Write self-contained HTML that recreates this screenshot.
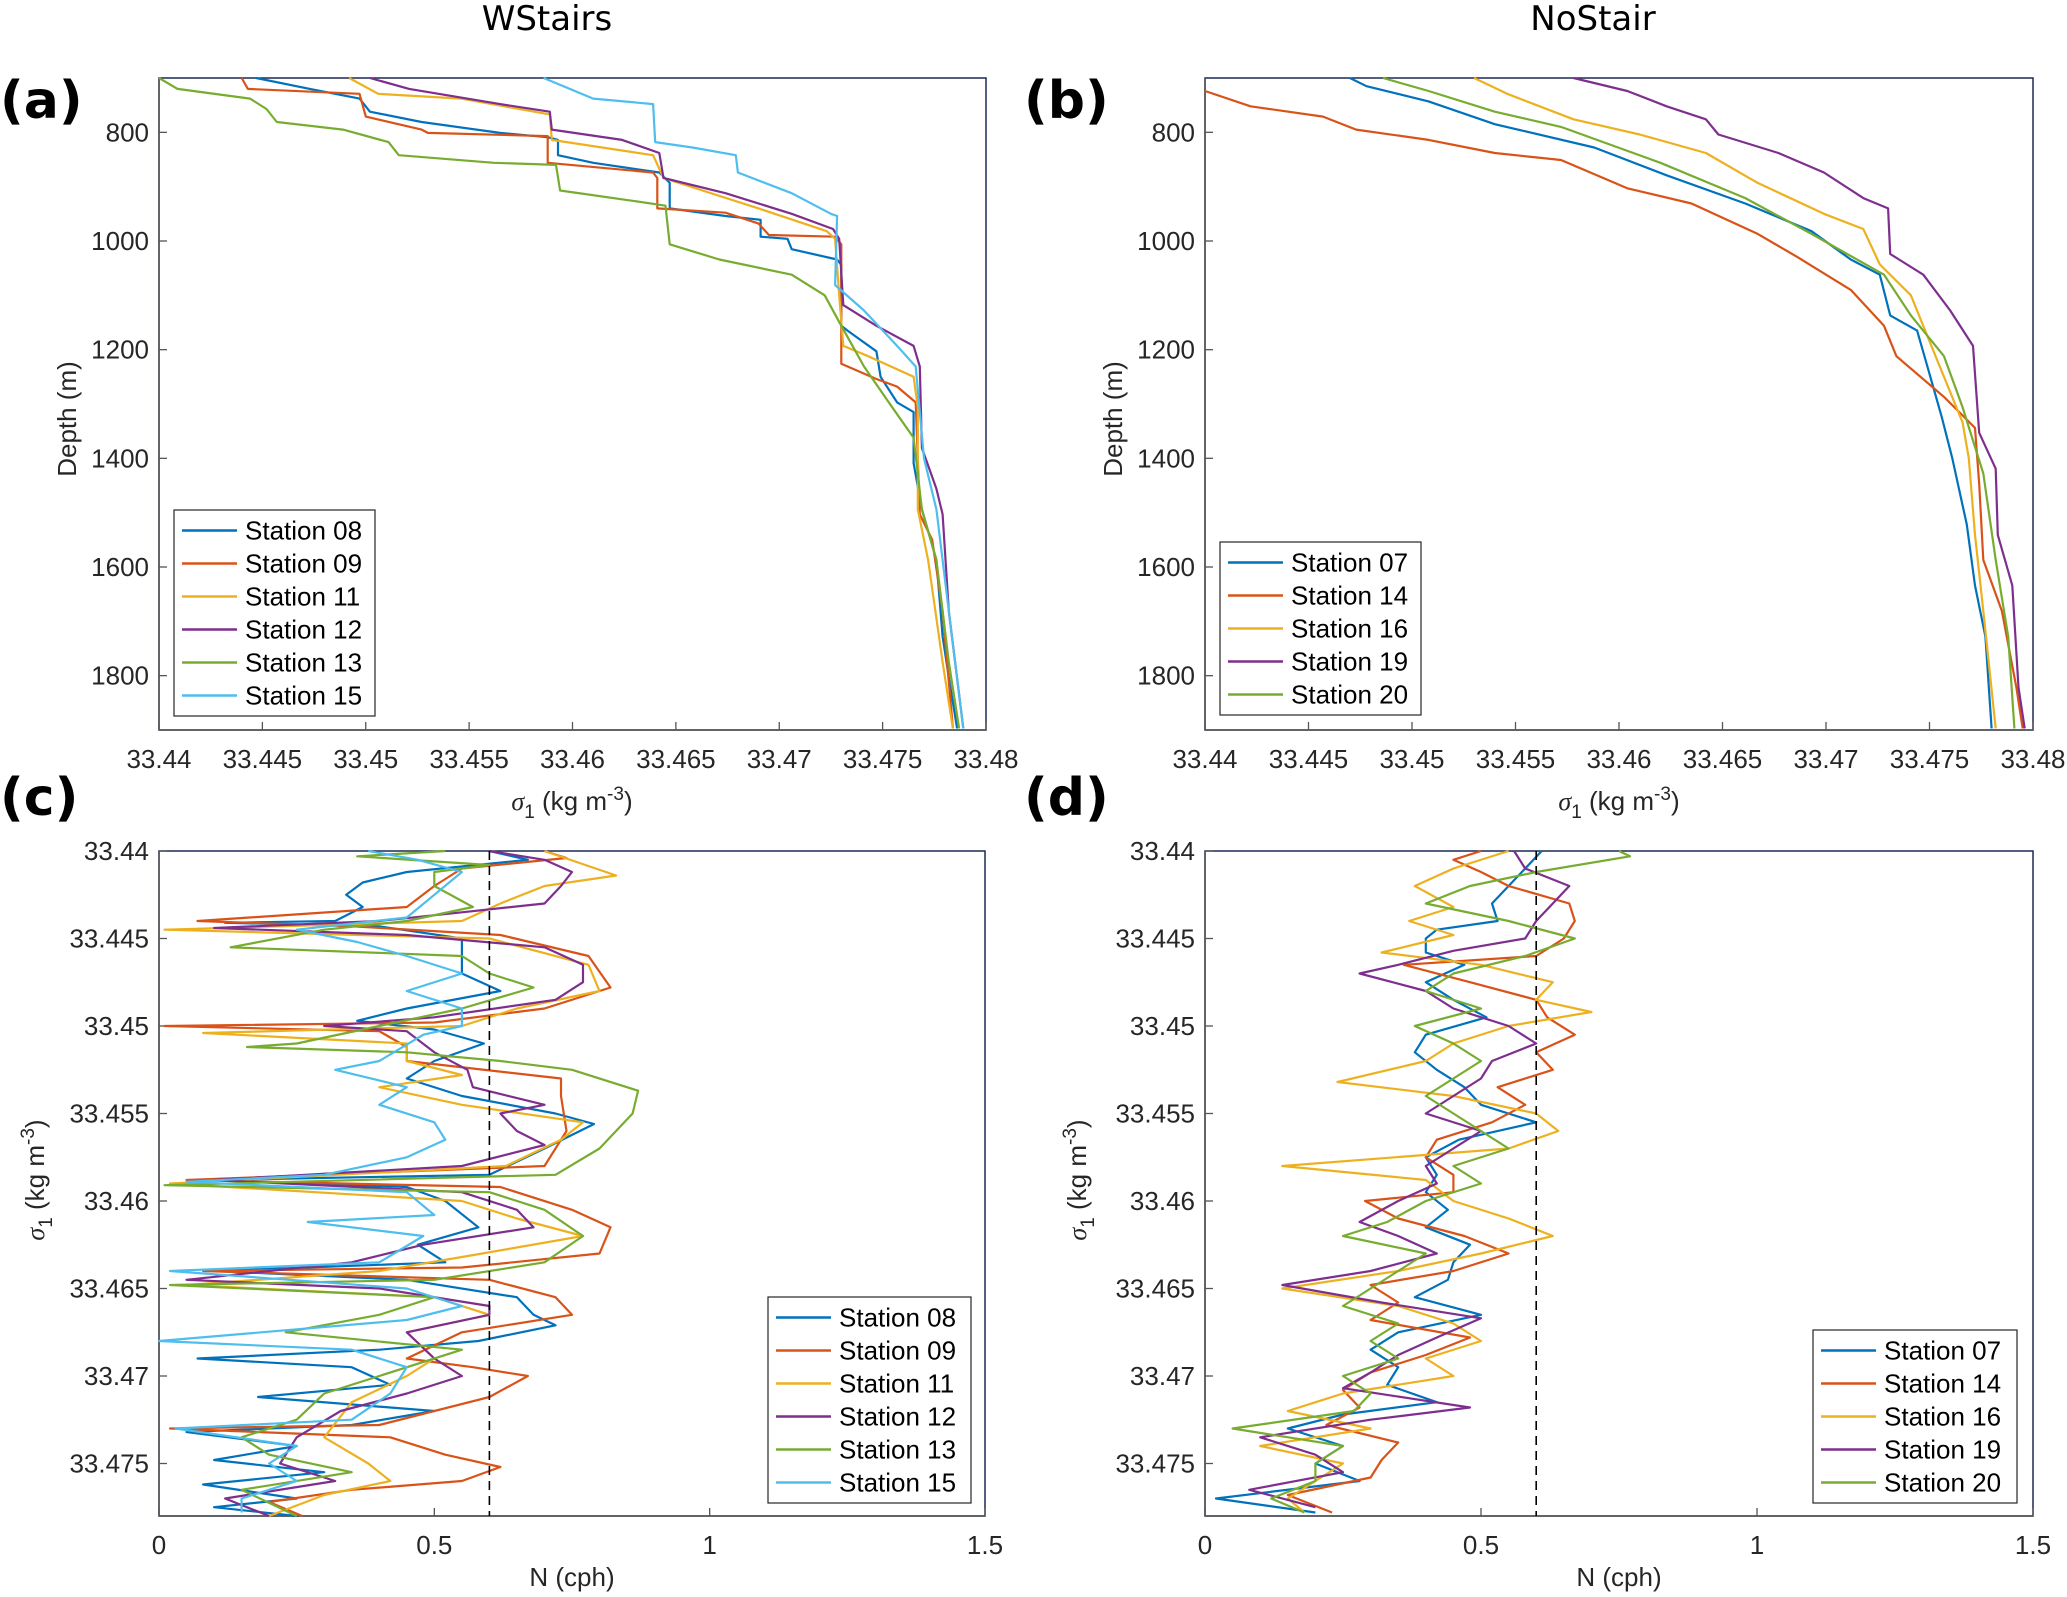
<!DOCTYPE html>
<html><head><meta charset="utf-8"><style>
html,body{margin:0;padding:0;background:#fff;}
svg{display:block;font-family:"Liberation Sans",sans-serif;}
</style></head><body>
<svg id="fig" width="2067" height="1597" viewBox="0 0 2067 1597" xmlns="http://www.w3.org/2000/svg"></svg>
<script>
// ===== Panel (a) WStairs: depth (m) vs sigma1 =====
const aNames = ["Station 08","Station 09","Station 11","Station 12","Station 13","Station 15"];
const aSt08 = [[700,33.4447],[720,33.4473],[738,33.4497],[762,33.4502],[781,33.4527],[801,33.4565],[809,33.4588],[814,33.4593],[842,33.4593],[856,33.461],[874,33.4642],[893,33.4647],[940,33.4647],[954,33.4674],[961,33.4691],[992,33.4691],[996,33.4704],[1015,33.4706],[1034,33.4728],[1044,33.473],[1156,33.473],[1165,33.4733],[1203,33.4747],[1250,33.4749],[1297,33.4757],[1315,33.4765],[1409,33.4765],[1494,33.4769],[1587,33.4776],[1728,33.4779],[1803,33.4782],[1897,33.4786]];
const aSt09 = [[700,33.444],[720,33.4443],[729,33.4497],[771,33.45],[795,33.4527],[801,33.453],[807,33.4588],[856,33.4588],[874,33.4639],[884,33.4641],[940,33.4641],[948,33.4674],[968,33.469],[989,33.4695],[992,33.4727],[1006,33.473],[1184,33.473],[1226,33.473],[1254,33.4747],[1268,33.4757],[1297,33.4766],[1503,33.4768],[1550,33.4774],[1681,33.4779],[1897,33.4784]];
const aSt11 = [[700,33.4492],[729,33.4506],[738,33.4546],[767,33.4589],[814,33.459],[842,33.4639],[884,33.4644],[940,33.469],[982,33.4723],[996,33.4727],[1100,33.4729],[1193,33.4731],[1212,33.4743],[1250,33.4765],[1306,33.4767],[1494,33.4767],[1587,33.4772],[1775,33.4779],[1897,33.4784]];
const aSt12 = [[700,33.4502],[720,33.4521],[748,33.4565],[762,33.4589],[795,33.459],[814,33.4624],[838,33.4642],[884,33.4644],[912,33.4674],[950,33.4706],[978,33.4726],[996,33.4729],[1118,33.4731],[1156,33.4747],[1193,33.4765],[1231,33.4768],[1381,33.4769],[1456,33.4776],[1503,33.4779],[1681,33.4782],[1897,33.4789]];
const aSt13 = [[700,33.44],[720,33.4409],[738,33.4444],[757,33.4452],[781,33.4457],[795,33.4489],[818,33.4511],[842,33.4516],[856,33.4562],[860,33.4592],[907,33.4594],[926,33.4629],[935,33.4645],[1006,33.4647],[1034,33.4671],[1062,33.4706],[1100,33.4722],[1156,33.473],[1231,33.4741],[1297,33.4753],[1362,33.4765],[1494,33.4769],[1587,33.4776],[1775,33.4782],[1897,33.4787]];
const aSt15 = [[700,33.4586],[738,33.461],[748,33.4639],[818,33.464],[828,33.4658],[842,33.4679],[874,33.468],[912,33.4706],[950,33.4725],[954,33.4728],[1081,33.4727],[1128,33.4741],[1193,33.4757],[1231,33.4766],[1400,33.477],[1494,33.4776],[1681,33.4782],[1897,33.4789]];
const aSeries = [aSt08,aSt09,aSt11,aSt12,aSt13,aSt15];

// ===== Panel (b) NoStair =====
const bNames = ["Station 07","Station 14","Station 16","Station 19","Station 20"];
const bSt07 = [[700,33.447],[715,33.4478],[743,33.4508],[785,33.454],[828,33.4588],[879,33.4623],[931,33.4661],[982,33.4693],[1034,33.4712],[1062,33.4726],[1137,33.4731],[1165,33.4744],[1231,33.4749],[1325,33.4756],[1400,33.4761],[1522,33.4768],[1634,33.4772],[1728,33.4777],[1897,33.478]];
const bSt14 = [[724,33.44],[752,33.4422],[771,33.4457],[795,33.4473],[814,33.4508],[838,33.454],[851,33.4572],[903,33.4604],[931,33.4635],[987,33.4667],[1029,33.4686],[1090,33.4712],[1156,33.4728],[1212,33.4734],[1287,33.4757],[1344,33.4772],[1447,33.4774],[1587,33.4776],[1681,33.4785],[1822,33.4792],[1897,33.4795]];
const bSt16 = [[700,33.453],[729,33.4546],[776,33.4578],[804,33.461],[838,33.4642],[893,33.4667],[950,33.4699],[978,33.4718],[1043,33.4726],[1100,33.4741],[1175,33.4749],[1250,33.4757],[1334,33.4766],[1400,33.4769],[1541,33.4772],[1681,33.4776],[1897,33.4782]];
const bSt19 = [[700,33.4578],[724,33.4604],[752,33.4623],[776,33.4642],[804,33.4648],[838,33.4677],[874,33.4699],[921,33.4718],[940,33.473],[1024,33.4731],[1062,33.4747],[1128,33.476],[1193,33.4771],[1353,33.4774],[1419,33.4782],[1541,33.4783],[1634,33.479],[1822,33.4793],[1897,33.4796]];
const bSt20 = [[700,33.4486],[724,33.4508],[762,33.454],[790,33.4572],[856,33.462],[921,33.4661],[987,33.4693],[1062,33.4728],[1137,33.4741],[1212,33.4757],[1306,33.4766],[1428,33.4776],[1587,33.4782],[1728,33.4788],[1897,33.4791]];
const bSeries = [bSt07,bSt14,bSt16,bSt19,bSt20];

// ===== Panel (c) WStairs: N (cph) vs sigma1 =====
const cSt08 = [[33.44,0.6],[33.4405,0.67],[33.4412,0.45],[33.4418,0.37],[33.4425,0.34],[33.4432,0.37],[33.444,0.32],[33.4441,0.12],[33.4443,0.4],[33.445,0.55],[33.446,0.55],[33.447,0.55],[33.448,0.62],[33.449,0.45],[33.4497,0.36],[33.4502,0.5],[33.451,0.59],[33.452,0.5],[33.453,0.45],[33.454,0.55],[33.455,0.72],[33.4556,0.79],[33.457,0.7],[33.4585,0.6],[33.4588,0.1],[33.4592,0.45],[33.46,0.52],[33.4615,0.58],[33.4625,0.47],[33.4635,0.52],[33.464,0.1],[33.4645,0.45],[33.4655,0.65],[33.4665,0.68],[33.4671,0.72],[33.468,0.58],[33.4685,0.4],[33.469,0.07],[33.4695,0.35],[33.4705,0.42],[33.4712,0.18],[33.472,0.5],[33.4728,0.35],[33.4732,0.05],[33.474,0.25],[33.4748,0.1],[33.4755,0.3],[33.4762,0.08],[33.477,0.25],[33.4775,0.1],[33.478,0.25]];
const cSt09 = [[33.44,0.7],[33.4404,0.74],[33.441,0.55],[33.442,0.5],[33.4432,0.45],[33.444,0.07],[33.4443,0.35],[33.4448,0.62],[33.446,0.78],[33.4478,0.82],[33.449,0.7],[33.4498,0.5],[33.45,0.01],[33.4503,0.4],[33.4512,0.45],[33.452,0.45],[33.453,0.73],[33.454,0.73],[33.456,0.74],[33.458,0.7],[33.4588,0.05],[33.4592,0.62],[33.4605,0.75],[33.4615,0.82],[33.463,0.8],[33.4638,0.55],[33.464,0.08],[33.4645,0.6],[33.4655,0.72],[33.4665,0.75],[33.4675,0.55],[33.469,0.45],[33.4695,0.57],[33.47,0.67],[33.4712,0.6],[33.4728,0.4],[33.473,0.02],[33.4735,0.42],[33.4745,0.52],[33.4752,0.62],[33.476,0.55],[33.4765,0.35],[33.4772,0.2],[33.478,0.26]];
const cSt11 = [[33.44,0.7],[33.4414,0.83],[33.442,0.7],[33.443,0.62],[33.444,0.55],[33.4445,0.01],[33.445,0.6],[33.4465,0.78],[33.448,0.8],[33.449,0.65],[33.45,0.55],[33.4504,0.08],[33.451,0.45],[33.452,0.45],[33.4528,0.55],[33.4535,0.4],[33.4545,0.55],[33.4555,0.77],[33.4565,0.73],[33.458,0.63],[33.459,0.02],[33.46,0.55],[33.461,0.65],[33.462,0.77],[33.4632,0.55],[33.464,0.4],[33.4648,0.05],[33.4655,0.5],[33.4665,0.6],[33.4675,0.45],[33.469,0.5],[33.47,0.45],[33.4715,0.35],[33.4735,0.3],[33.475,0.38],[33.476,0.42],[33.4768,0.3],[33.478,0.2]];
const cSt12 = [[33.44,0.6],[33.4405,0.7],[33.4412,0.75],[33.442,0.73],[33.443,0.7],[33.4435,0.55],[33.444,0.4],[33.4444,0.1],[33.4448,0.45],[33.4455,0.7],[33.4465,0.77],[33.4475,0.77],[33.4485,0.72],[33.4495,0.5],[33.45,0.3],[33.4503,0.45],[33.4515,0.5],[33.4525,0.56],[33.4535,0.57],[33.4545,0.7],[33.455,0.62],[33.456,0.65],[33.4568,0.7],[33.458,0.55],[33.4588,0.1],[33.4595,0.55],[33.4605,0.65],[33.4615,0.68],[33.4625,0.48],[33.4635,0.35],[33.4645,0.05],[33.465,0.4],[33.466,0.6],[33.4665,0.6],[33.4675,0.45],[33.469,0.5],[33.47,0.55],[33.471,0.45],[33.472,0.33],[33.4735,0.25],[33.475,0.22],[33.476,0.32],[33.477,0.12],[33.478,0.2]];
const cSt13 = [[33.44,0.52],[33.4403,0.36],[33.4408,0.6],[33.4412,0.5],[33.442,0.5],[33.4432,0.57],[33.444,0.45],[33.4445,0.3],[33.4455,0.13],[33.446,0.55],[33.447,0.6],[33.4478,0.68],[33.449,0.55],[33.45,0.4],[33.451,0.25],[33.4512,0.16],[33.4515,0.45],[33.452,0.62],[33.4525,0.75],[33.4537,0.87],[33.455,0.86],[33.457,0.8],[33.4585,0.72],[33.4591,0.01],[33.4595,0.6],[33.4605,0.7],[33.462,0.77],[33.4635,0.7],[33.4645,0.5],[33.4648,0.02],[33.4655,0.5],[33.4665,0.4],[33.4675,0.23],[33.4685,0.55],[33.47,0.4],[33.471,0.3],[33.4725,0.25],[33.4735,0.15],[33.4745,0.2],[33.4755,0.35],[33.4765,0.15],[33.478,0.25]];
const cSt15 = [[33.44,0.38],[33.4405,0.47],[33.4412,0.55],[33.4425,0.5],[33.4438,0.45],[33.4445,0.25],[33.4452,0.36],[33.446,0.45],[33.447,0.55],[33.448,0.45],[33.449,0.55],[33.45,0.55],[33.4505,0.48],[33.452,0.4],[33.4525,0.32],[33.4535,0.45],[33.4545,0.4],[33.4555,0.5],[33.4565,0.52],[33.4575,0.45],[33.4585,0.3],[33.4589,0.05],[33.4595,0.45],[33.4608,0.5],[33.4612,0.27],[33.462,0.48],[33.4635,0.4],[33.464,0.02],[33.465,0.45],[33.466,0.55],[33.4668,0.45],[33.468,0.0],[33.4685,0.35],[33.4695,0.45],[33.471,0.42],[33.4725,0.35],[33.473,0.03],[33.474,0.25],[33.475,0.2],[33.476,0.25],[33.477,0.15],[33.4778,0.15]];
const cSeries = [cSt08,cSt09,cSt11,cSt12,cSt13,cSt15];

// ===== Panel (d) NoStair: N vs sigma1 =====
const dSt07 = [[33.44,0.61],[33.441,0.58],[33.442,0.55],[33.443,0.52],[33.444,0.53],[33.4445,0.42],[33.445,0.4],[33.4458,0.4],[33.4465,0.47],[33.4475,0.4],[33.4485,0.45],[33.4495,0.51],[33.4505,0.4],[33.4515,0.38],[33.4525,0.42],[33.4535,0.47],[33.4545,0.5],[33.4555,0.6],[33.4565,0.46],[33.4575,0.4],[33.4585,0.42],[33.4595,0.4],[33.4605,0.44],[33.4615,0.4],[33.4625,0.48],[33.4635,0.45],[33.4645,0.44],[33.4655,0.38],[33.4665,0.5],[33.4675,0.35],[33.4685,0.3],[33.4695,0.35],[33.4705,0.33],[33.4715,0.42],[33.4722,0.25],[33.473,0.15],[33.474,0.25],[33.475,0.2],[33.476,0.28],[33.477,0.02],[33.4778,0.2]];
const dSt14 = [[33.44,0.5],[33.4405,0.45],[33.4412,0.5],[33.442,0.55],[33.443,0.66],[33.444,0.67],[33.445,0.65],[33.446,0.6],[33.4465,0.36],[33.4475,0.48],[33.4485,0.6],[33.4495,0.62],[33.4505,0.67],[33.4515,0.6],[33.4525,0.63],[33.4535,0.53],[33.4545,0.58],[33.4555,0.52],[33.4565,0.42],[33.4575,0.4],[33.4585,0.45],[33.4595,0.45],[33.46,0.29],[33.461,0.35],[33.462,0.47],[33.463,0.55],[33.464,0.45],[33.4648,0.3],[33.4658,0.35],[33.4668,0.3],[33.4678,0.48],[33.4688,0.4],[33.4698,0.3],[33.4708,0.25],[33.4718,0.28],[33.4728,0.22],[33.4738,0.35],[33.4748,0.32],[33.4758,0.3],[33.4768,0.15],[33.4778,0.23]];
const dSt16 = [[33.44,0.55],[33.441,0.45],[33.442,0.38],[33.4432,0.45],[33.444,0.37],[33.4448,0.45],[33.4458,0.32],[33.4465,0.5],[33.4475,0.63],[33.4485,0.6],[33.4492,0.7],[33.45,0.55],[33.451,0.45],[33.452,0.4],[33.4532,0.24],[33.454,0.45],[33.455,0.6],[33.456,0.64],[33.457,0.55],[33.458,0.14],[33.4588,0.4],[33.46,0.45],[33.461,0.55],[33.462,0.63],[33.463,0.5],[33.464,0.35],[33.465,0.14],[33.466,0.35],[33.467,0.45],[33.468,0.5],[33.469,0.4],[33.47,0.45],[33.471,0.25],[33.472,0.15],[33.473,0.3],[33.474,0.1],[33.475,0.25],[33.476,0.2],[33.477,0.15],[33.4778,0.18]];
const dSt19 = [[33.44,0.56],[33.441,0.58],[33.442,0.66],[33.443,0.63],[33.444,0.6],[33.445,0.58],[33.4457,0.45],[33.4465,0.35],[33.447,0.28],[33.448,0.4],[33.449,0.45],[33.45,0.55],[33.451,0.6],[33.452,0.52],[33.453,0.5],[33.454,0.45],[33.455,0.4],[33.456,0.5],[33.457,0.45],[33.458,0.4],[33.459,0.42],[33.46,0.35],[33.4612,0.28],[33.462,0.35],[33.463,0.42],[33.464,0.3],[33.4648,0.14],[33.4658,0.32],[33.4667,0.5],[33.4678,0.42],[33.4688,0.35],[33.4698,0.3],[33.4707,0.25],[33.4718,0.48],[33.4725,0.3],[33.4735,0.1],[33.4745,0.2],[33.4755,0.25],[33.4765,0.08],[33.4775,0.2]];
const dSt20 = [[33.44,0.75],[33.4403,0.77],[33.4412,0.6],[33.442,0.48],[33.443,0.4],[33.444,0.55],[33.445,0.67],[33.446,0.58],[33.447,0.45],[33.448,0.4],[33.449,0.5],[33.45,0.38],[33.451,0.45],[33.452,0.5],[33.453,0.45],[33.454,0.4],[33.455,0.45],[33.456,0.5],[33.457,0.55],[33.458,0.45],[33.459,0.5],[33.46,0.4],[33.4612,0.33],[33.462,0.25],[33.463,0.4],[33.464,0.35],[33.465,0.3],[33.466,0.25],[33.467,0.35],[33.468,0.3],[33.469,0.35],[33.47,0.25],[33.471,0.3],[33.472,0.27],[33.473,0.05],[33.474,0.25],[33.475,0.2],[33.476,0.2],[33.477,0.12],[33.4778,0.18]];
const dSeries = [dSt07,dSt14,dSt16,dSt19,dSt20];

const sigmaTicks = [33.44,33.445,33.45,33.455,33.46,33.465,33.47,33.475,33.48];
const sigmaTickLabels = ["33.44","33.445","33.45","33.455","33.46","33.465","33.47","33.475","33.48"];
const depthTicks = [800,1000,1200,1400,1600,1800];
const nTicks = [0,0.5,1,1.5];
const nTickLabels = ["0","0.5","1","1.5"];
const cSigmaTicks = [33.44,33.445,33.45,33.455,33.46,33.465,33.47,33.475];
const cSigmaTickLabels = ["33.44","33.445","33.45","33.455","33.46","33.465","33.47","33.475"];
const nThreshold = [0.6];

const colorsA = ["#0072BD","#D95319","#EDB120","#7E2F8E","#77AC30","#4DBEEE"];
const colorsB = ["#0072BD","#D95319","#EDB120","#7E2F8E","#77AC30"];
const NS = "http://www.w3.org/2000/svg";
const svg = document.getElementById('fig');
function mk(tag, attrs, parent){const e=document.createElementNS(NS,tag);for(const k in attrs)e.setAttribute(k,attrs[k]);(parent||svg).appendChild(e);return e;}

function panel(id, box, xr, yr, xTicks, xLabels, yTicks, yLabels){
  const g = mk('g',{});
  
  
  const sx = v => box.x0 + (v - xr[0])/(xr[1]-xr[0])*(box.x1-box.x0);
  const sy = v => box.y0 + (v - yr[0])/(yr[1]-yr[0])*(box.y1-box.y0);
  // box
  const r = mk('rect',{x:box.x0,y:box.y0,width:box.x1-box.x0,height:box.y1-box.y0,fill:'#fff',stroke:'#1c2a55','stroke-width':1.5},g);
  
  
  mk('line',{x1:box.x0,y1:box.y1,x2:box.x1,y2:box.y1,stroke:'#555','stroke-width':1.5},g);
  mk('line',{x1:box.x0,y1:box.y0,x2:box.x0,y2:box.y1,stroke:'#555','stroke-width':1.5},g);
  xTicks.forEach((t,i)=>{
    const x=sx(t);
    mk('line',{x1:x,y1:box.y1,x2:x,y2:box.y1-8,stroke:'#555','stroke-width':1.3},g);
    const tx=mk('text',{x:x,y:box.y1+38,'text-anchor':'middle','font-size':26,fill:'#262626'},g);
    tx.textContent=xLabels[i];
    
    
  });
  yTicks.forEach((t,i)=>{
    const y=sy(t);
    mk('line',{x1:box.x0,y1:y,x2:box.x0+8,y2:y,stroke:'#555','stroke-width':1.3},g);
    const tx=mk('text',{x:box.x0-10,y:y+9,'text-anchor':'end','font-size':26,fill:'#262626'},g);
    tx.textContent=yLabels[i];
    
    
  });
  return {g,sx,sy};
}
function drawLines(p, series, colors, names, xi, yi, id){
  series.forEach((s,k)=>{
    const pts = s.map(d=>p.sx(d[xi]).toFixed(1)+','+p.sy(d[yi]).toFixed(1)).join(' ');
    const pl = mk('polyline',{points:pts,fill:'none',stroke:colors[k],'stroke-width':2.2,'stroke-linejoin':'round'},p.g);
    
    
  });
}
function legend(lx,ly,w,names,colors,id){
  const g=mk('g',{});
  
  
  const rowH=33;
  mk('rect',{x:lx,y:ly,width:w,height:names.length*rowH+8,fill:'#fff',stroke:'#262626','stroke-width':1.2},g);
  names.forEach((n,i)=>{
    const cy=ly+4+rowH*i+rowH/2;
    const e=mk('g',{},g);
    
    
    mk('line',{x1:lx+8,y1:cy,x2:lx+63,y2:cy,stroke:colors[i],'stroke-width':2.5},e);
    const t=mk('text',{x:lx+71,y:cy+9,'font-size':26,fill:'#000'},e);
    t.textContent=n;
  });
}
function text(x,y,str,attrs,name){
  const t=mk('text',Object.assign({x:x,y:y},attrs));
  t.textContent=str;
  
  
  return t;
}
function sigmaLabel(x,y,rot,name){
  const t=mk('text',{x:x,y:y,'text-anchor':'middle','font-size':26,fill:'#262626',transform:rot?('rotate(-90 '+x+' '+y+')'):''});
  
  
  t.innerHTML='<tspan font-family="Liberation Serif" font-style="italic">σ</tspan><tspan font-size="19" dy="8">1</tspan><tspan dy="-8"> (kg m</tspan><tspan font-size="19" dy="-10">-3</tspan><tspan dy="10">)</tspan>';
}

const depthLabels = depthTicks.map(String);
const A = {x0:159,x1:986,y0:78,y1:730};
const B = {x0:1205,x1:2033,y0:78,y1:730};
const C = {x0:159,x1:985,y0:851,y1:1516};
const D = {x0:1205,x1:2033,y0:851,y1:1516};

const pa = panel('a',A,[33.44,33.48],[700,1900],sigmaTicks,sigmaTickLabels,depthTicks,depthLabels);
drawLines(pa,aSeries,colorsA,aNames,1,0,'a');
legend(174,510,201,aNames,colorsA,'a');
const pb = panel('b',B,[33.44,33.48],[700,1900],sigmaTicks,sigmaTickLabels,depthTicks,depthLabels);
drawLines(pb,bSeries,colorsB,bNames,1,0,'b');
legend(1220,542,201,bNames,colorsB,'b');
const pc = panel('c',C,[0,1.5],[33.44,33.478],nTicks,nTickLabels,cSigmaTicks,cSigmaTickLabels);
drawLines(pc,cSeries,colorsA,aNames,1,0,'c');
const pd = panel('d',D,[0,1.5],[33.44,33.478],nTicks,nTickLabels,cSigmaTicks,cSigmaTickLabels);
drawLines(pd,dSeries,colorsB,bNames,1,0,'d');
[[pc,C,'c'],[pd,D,'d']].forEach(([p,bx,id])=>{
  nThreshold.forEach(v=>{
    const l=mk('line',{x1:p.sx(v),y1:bx.y0,x2:p.sx(v),y2:bx.y1,stroke:'#000','stroke-width':1.6,'stroke-dasharray':'9,6'},p.g);
    
    
  });
});
legend(768,1297,203,aNames,colorsA,'c');
legend(1813,1330,204,bNames,colorsB,'d');

// titles and labels
text(547,30,'WStairs',{'text-anchor':'middle','font-size':34,'font-family':'DejaVu Sans',fill:'#000'},'title-wstairs');
text(1593,30,'NoStair',{'text-anchor':'middle','font-size':34,'font-family':'DejaVu Sans',fill:'#000'},'title-nostair');
text(0,118,'(a)',{'font-size':52,'font-weight':'bold','font-family':'DejaVu Sans',fill:'#000'},'panel-label-a');
text(1024,118,'(b)',{'font-size':52,'font-weight':'bold','font-family':'DejaVu Sans',fill:'#000'},'panel-label-b');
text(0,815,'(c)',{'font-size':52,'font-weight':'bold','font-family':'DejaVu Sans',fill:'#000'},'panel-label-c');
text(1024,815,'(d)',{'font-size':52,'font-weight':'bold','font-family':'DejaVu Sans',fill:'#000'},'panel-label-d');
text(76,419,'Depth (m)',{'text-anchor':'middle','font-size':26,fill:'#262626',transform:'rotate(-90 76 419)'},'y-axis-title-a');
text(1122,419,'Depth (m)',{'text-anchor':'middle','font-size':26,fill:'#262626',transform:'rotate(-90 1122 419)'},'y-axis-title-b');
sigmaLabel(572,810,false,'x-axis-title-a');
sigmaLabel(1619,810,false,'x-axis-title-b');
sigmaLabel(44,1180,true,'y-axis-title-c');
sigmaLabel(1086,1180,true,'y-axis-title-d');
text(572,1586,'N (cph)',{'text-anchor':'middle','font-size':26,fill:'#262626'},'x-axis-title-c');
text(1619,1586,'N (cph)',{'text-anchor':'middle','font-size':26,fill:'#262626'},'x-axis-title-d');
</script>
</body></html>
